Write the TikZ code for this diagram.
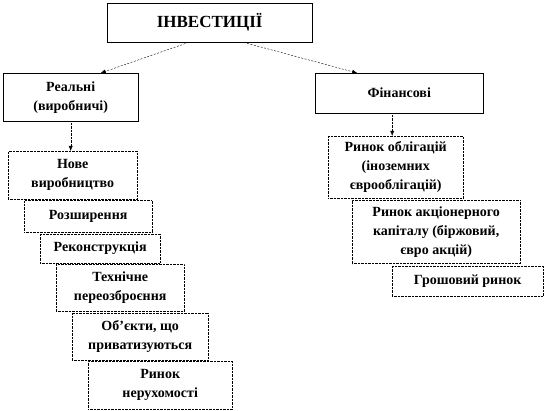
\documentclass[tikz,border=0pt]{standalone}
\usepackage{fontspec}
\setmainfont{Liberation Serif}
\usetikzlibrary{positioning, arrows.meta}
\tikzset{
  box/.style={draw, densely dotted, align=center, inner sep=1pt, anchor=north west,
    font=\bfseries\fontsize{14}{19}\selectfont},
  headbox/.style={box, solid},
  link/.style={-{Latex[length=5pt, width=4pt]}, thin, dash pattern=on 2pt off 1.5pt},
  drop/.style={-{Latex[length=5pt, width=4pt]}, thin, densely dotted},
}

\begin{document}
\begin{tikzpicture}[x=1pt, y=-1pt]
  \useasboundingbox (0,0) rectangle (547,411);
  % Define nodes
  \node[headbox, minimum width=205pt, minimum height=39pt,
    font=\bfseries\fontsize{17}{20}\selectfont] (inv) at (107,3) {ІНВЕСТИЦІЇ};
  \node[headbox, minimum width=135pt, minimum height=48pt] (real) at (3,73) {Реальні\\(виробничі)};
  \node[headbox, minimum width=168pt, minimum height=40pt] (fin) at (315,73) {Фінансові};
  %--
  \node[box, minimum width=129pt, minimum height=48pt] (new) at (8,151) {Нове\\виробництво};
  \node[box, below=1pt of new.south west, anchor=north west, xshift=16pt,
    minimum width=128pt, minimum height=32pt] (expand) {Розширення};
  \node[box, below=1pt of expand.south west, anchor=north west, xshift=16pt,
    minimum width=120pt, minimum height=29pt] (rebuild) {Реконструкція};
  \node[box, below=1pt of rebuild.south west, anchor=north west, xshift=16pt,
    minimum width=128pt, minimum height=47pt] (tech) {Технічне\\переозброєння};
  \node[box, below=1pt of tech.south west, anchor=north west, xshift=16pt,
    minimum width=136pt, minimum height=47pt] (priv) {Об’єкти, що\\приватизуються};
  \node[box, below=1pt of priv.south west, anchor=north west, xshift=16pt,
    minimum width=144pt, minimum height=48pt] (estate) {Ринок\\нерухомості};
  %--
  \node[box, minimum width=135pt, minimum height=62pt] (bonds) at (328,136)
    {Ринок облігацій\\(іноземних\\єврооблігацій)};
  \node[box, below=2pt of bonds.south west, anchor=north west, xshift=24pt,
    minimum width=168pt, minimum height=63pt] (shares)
    {Ринок акціонерного\\капіталу (біржовий,\\євро акцій)};
  \node[box, below=2pt of shares.south west, anchor=north west, xshift=40pt,
    minimum width=151pt, minimum height=30pt] (money) {Грошовий ринок};

  % Connect the nodes
  \draw[link] ([xshift=-21pt]inv.south) -- ([xshift=30pt]real.north);
  \draw[link] ([xshift=34pt]inv.south) -- ([xshift=-42pt]fin.north);
  \draw[drop] (real.south) -- (real.south |- new.north);
  \draw[drop] ([xshift=-7pt]fin.south) -- ([xshift=-7pt]fin.south |- bonds.north);
\end{tikzpicture}
\end{document}
